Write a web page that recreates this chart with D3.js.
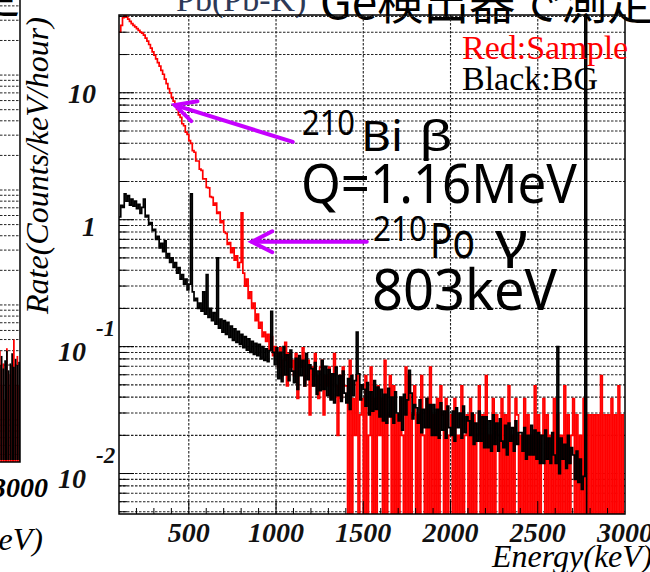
<!DOCTYPE html>
<html>
<head>
<meta charset="utf-8">
<script src="https://cdn.jsdelivr.net/npm/d3@7/dist/d3.min.js"></script>
<style>
body { margin: 0; background: #fff; }
svg { display: block; }
</style>
</head>
<body>
<svg id="chart" width="650" height="572"></svg>
<script>
// 10 keV bins, 100 .. 3000 keV
var binStart = 100, binWidth = 10;

// Black: background run (Counts/keV/hour)
var bgRate = [
  1.05,1.3,1.25,1.6,1.4,1.55,1.3,1.45,1.28,1.4,               // 100
  1.22,1.32,1.12,1.25,1.45,1.05,1.08,0.92,0.95,0.82,          // 200
  0.84,0.7,0.74,0.6,0.65,0.56,0.68,0.5,0.54,0.46,             // 300
  0.5,0.42,0.46,0.38,0.42,0.34,0.37,0.31,0.34,0.28,           // 400
  0.31,1.6,0.27,0.23,0.24,0.2,0.22,0.19,0.27,0.18,            // 500
  0.37,0.17,0.2,0.16,0.185,0.15,0.5,0.14,0.165,0.13,          // 600
  0.16,0.125,0.155,0.118,0.145,0.112,0.138,0.108,0.132,0.104, // 700
  0.125,0.098,0.12,0.094,0.115,0.09,0.11,0.087,0.106,0.085,   // 800
  0.104,0.08,0.1,0.078,0.096,0.076,0.093,0.19,0.09,0.072,     // 900
  0.098,0.056,0.09,0.053,0.1,0.06,0.086,0.054,0.094,0.064,    // 1000
  0.052,0.081,0.046,0.085,0.059,0.078,0.049,0.088,0.055,0.072,// 1100
  0.067,0.049,0.075,0.042,0.064,0.045,0.078,0.046,0.07,0.041, // 1200
  0.066,0.038,0.061,0.036,0.069,0.041,0.059,0.037,0.064,0.043,// 1300
  0.036,0.056,0.032,0.059,0.041,0.054,0.13,0.061,0.038,0.05,  // 1400
  0.046,0.034,0.052,0.029,0.044,0.031,0.054,0.032,0.048,0.028,// 1500
  0.046,0.026,0.042,0.025,0.047,0.028,0.04,0.025,0.044,0.03,  // 1600
  0.026,0.04,0.022,0.042,0.029,0.038,0.065,0.043,0.027,0.035, // 1700
  0.033,0.025,0.038,0.021,0.032,0.023,0.039,0.023,0.035,0.02, // 1800
  0.035,0.02,0.032,0.019,0.036,0.022,0.031,0.019,0.034,0.023, // 1900
  0.02,0.031,0.018,0.033,0.023,0.03,0.019,0.034,0.021,0.028,  // 2000
  0.026,0.02,0.03,0.017,0.025,0.018,0.031,0.018,0.028,0.016,  // 2100
  0.028,0.016,0.026,0.015,0.029,0.017,0.025,0.015,0.027,0.018,// 2200
  0.016,0.024,0.014,0.025,0.018,0.023,0.015,0.026,0.017,0.021,// 2300
  0.021,0.015,0.023,0.013,0.02,0.014,0.024,0.014,0.022,0.013, // 2400
  0.021,0.012,0.02,0.012,0.022,0.013,0.019,0.012,0.021,0.014, // 2500
  0.012,0.1,0.01,0.019,0.013,0.017,0.011,0.02,0.012,0.016,    // 2600
  0.014,0.009,0.015,0.0085,0.013,0.0075,0.0095,60,0,0,        // 2700
  0,0,0,0,0,0,0,0,0,0,                                        // 2800
  0,0,0,0,0,0,0,0,0,0                                         // 2900
];

// Red: sample run
var sampleRate = [
  30,34,39,42,39.5,38,36.5,35,34,33,                          // 100
  32,31,30,29.5,28.5,27,25.5,24,22.5,21,                      // 200
  19.8,18.5,17.3,16.2,15,14,12.8,11.8,10.8,10,                // 300
  9.2,8.6,7.9,7.4,6.7,6.4,5.7,5.5,4.9,4.7,                    // 400
  4.2,4.0,3.5,3.4,2.9,2.9,2.5,2.45,2.1,2.1,                   // 500
  1.8,1.78,1.52,1.5,1.3,1.35,1.12,1.15,0.95,0.98,             // 600
  0.8,0.78,0.64,0.66,0.55,0.6,0.48,0.52,0.42,0.46,            // 700
  1.13,0.38,0.3,0.34,0.24,0.27,0.2,0.22,0.16,0.18,            // 800
  0.14,0.155,0.12,0.13,0.11,0.125,0.095,0.12,0.085,0.1,       // 900
  0.088,0.069,0.098,0.059,0.078,0.108,0.049,0.088,0.069,0.078,// 1000
  0.059,0.088,0.039,0.078,0.069,0.098,0.049,0.059,0.078,0.029,// 1100
  0.069,0.049,0.088,0.059,0.039,0.069,0.078,0.029,0.059,0.049,// 1200
  0.069,0.039,0.059,0.088,0.049,0.02,0.059,0.039,0.069,0.049, // 1300
  0.049,0,0.078,0,0.039,0.02,0.059,0,0.029,0.039,             // 1400
  0,0.059,0,0.02,0.069,0,0.039,0,0.049,0.02,                  // 1500
  0.039,0,0.078,0,0.029,0.059,0,0.049,0,0.029,                // 1600
  0,0.039,0.02,0,0.069,0,0.059,0,0.029,0.049,                 // 1700
  0,0.029,0,0.059,0.02,0,0.039,0,0.069,0,                     // 1800
  0.029,0,0.039,0,0.049,0.029,0,0.039,0,0.02,                 // 1900
  0.029,0,0.039,0,0.02,0,0.049,0,0.02,0.029,                  // 2000
  0,0.039,0,0.029,0,0.02,0.049,0,0.029,0,                     // 2100
  0.059,0,0.02,0,0.039,0,0.029,0.02,0,0.039,                  // 2200
  0,0.029,0,0.049,0,0.02,0,0.039,0.029,0,                     // 2300
  0.02,0,0.039,0,0.029,0,0.02,0,0.049,0,                      // 2400
  0.029,0,0.02,0.039,0,0.029,0,0.02,0,0.039,                  // 2500
  0,0.029,0,0.02,0,0.049,0,0.029,0,0.02,                      // 2600
  0.039,0,0.029,0,0.02,0,0.039,0,0.029,0,                     // 2700
  0.029,0,0.029,0,0.029,0,0.059,0,0.029,0,                    // 2800
  0.029,0,0.039,0,0.029,0,0.049,0,0.029,0                     // 2900
];

var xTickValues = [500, 1000, 1500, 2000, 2500, 3000];
var yTickValues = [10, 1, 0.1, 0.01];
var yTickBase = ["10", "1", "10", "10"];
var yTickExp = ["", "", "-1", "-2"];

// arrows: [energy keV, rate] for tip and tail
var arrowTips = [[420, 8], [861, 0.67]];
var arrowTails = [[1096, 4.1], [1520, 0.67]];

// neighbouring panel on the slide (only its right edge is visible)
var leftBinStart = 2880;
var leftBg = [0.03,0.036,0.028,0.033,0.04,0.027,0.031,0.038,0.029,0.034,0.03,0.032];
var leftSample = [0.04,0.02,0.031,0.015,0.042,0.02,0.025,0.03,0.05,0.02,0.036,0.02];

var svg = d3.select("#chart");
var serif = "'Liberation Serif', 'Times New Roman', serif";
var sans = "'Noto Sans', 'DejaVu Sans', sans-serif";
var cjk = "'Noto Sans CJK JP', 'Noto Sans', sans-serif";
var magenta = "#c600ff";
var gridColor = "#222", gridDash = "2.5,1.5";

var pL = 119, pR = 625, pT = 15, pB = 514;
var x = d3.scaleLinear().domain([100, 3000]).range([pL, pR]);
var y = d3.scaleLog().domain([0.0048, 41]).range([pB, pT]);
function yv(v) { return v > 0 ? y(v) : pB + 6; }

// ---- neighbouring panel ----
var lx = d3.scaleLinear().domain([2880, 3000]).range([-1, 20]);
var ly = d3.scaleLog().domain([0.0043, 45]).range([462, 0]);
var lp = svg.append("g");
lp.selectAll("line.lg").data(ly.ticks()).enter().append("line")
    .attr("x1", 0).attr("x2", lx(3000))
    .attr("y1", function(d) { return ly(d); }).attr("y2", function(d) { return ly(d); })
    .attr("stroke", gridColor).attr("stroke-dasharray", gridDash);
lp.selectAll("rect.ls").data(leftSample).enter().append("rect")
    .attr("x", function(d, i) { return lx(leftBinStart + i * binWidth); })
    .attr("width", lx(binWidth) - lx(0))
    .attr("y", function(d) { return ly(d); })
    .attr("height", function(d) { return 462 - ly(d); })
    .attr("fill", "#f00");
lp.selectAll("rect.lb").data(leftBg).enter().append("rect")
    .attr("x", function(d, i) { return lx(leftBinStart + i * binWidth); })
    .attr("width", lx(binWidth) - lx(0))
    .attr("y", function(d) { return ly(d); })
    .attr("height", function(d) { return 462 - ly(d) - 2; })
    .attr("fill", "#000");
lp.append("path").attr("d", "M-2,462H" + lx(3000) + "V-2")
    .attr("fill", "none").attr("stroke", "#000").attr("stroke-width", 1.5);
lp.append("text").attr("x", lx(3000)).attr("y", 497).attr("text-anchor", "middle")
    .attr("font-family", serif).attr("font-style", "italic").attr("font-weight", "bold")
    .attr("font-size", 28).text("3000");
lp.append("text").attr("x", 43).attr("y", 550).attr("text-anchor", "end")
    .attr("font-family", serif).attr("font-style", "italic")
    .attr("font-size", 32).text("Energy(keV)");
lp.append("text").attr("x", -26).attr("y", 12)
    .attr("font-family", cjk).attr("font-size", 46).text("定");

// ---- slide heading (cut at the top) ----
svg.append("text").attr("x", 176).attr("y", 11)
    .attr("font-family", serif).attr("font-size", 34).attr("fill", "#2d3957")
    .text("Pb(Pb-K)");
svg.append("text").attr("x", 320).attr("y", 19)
    .attr("font-family", cjk).attr("font-size", 46).attr("fill", "#000")
    .text("Ge検出器で測定");

// ---- main panel ----
var plot = svg.append("g");
plot.append("clipPath").attr("id", "clip").append("rect")
    .attr("x", pL).attr("y", pT).attr("width", pR - pL).attr("height", pB - pT);

// grid
plot.selectAll("line.hg").data(y.ticks()).enter().append("line")
    .attr("x1", pL).attr("x2", pR)
    .attr("y1", function(d) { return y(d); }).attr("y2", function(d) { return y(d); })
    .attr("stroke", gridColor).attr("stroke-width", 1.1).attr("stroke-dasharray", gridDash);
plot.selectAll("line.vg").data(xTickValues.slice(0, 5)).enter().append("line")
    .attr("x1", function(d) { return x(d); }).attr("x2", function(d) { return x(d); })
    .attr("y1", pT).attr("y2", pB)
    .attr("stroke", gridColor).attr("stroke-width", 1.1).attr("stroke-dasharray", gridDash);

function stepPath(rates) {
  var pts = rates.map(function(v, i) { return [binStart + i * binWidth, v]; });
  pts.push([binStart + rates.length * binWidth, rates[rates.length - 1]]);
  return d3.line()
      .x(function(d) { return x(d[0]); })
      .y(function(d) { return yv(d[1]); })
      .curve(d3.curveStepAfter)(pts);
}

var hist = plot.append("g").attr("clip-path", "url(#clip)");
hist.append("path").attr("d", stepPath(sampleRate))
    .attr("fill", "none").attr("stroke", "#ff0000").attr("stroke-width", 1.7);
hist.append("path").attr("d", stepPath(bgRate))
    .attr("fill", "none").attr("stroke", "#000").attr("stroke-width", 1.7);

// ticks
var minorX = d3.range(200, 3000, 100);
plot.selectAll("line.xt").data(minorX).enter().append("line")
    .attr("x1", function(d) { return x(d); }).attr("x2", function(d) { return x(d); })
    .attr("y1", pB).attr("y2", function(d) { return d % 500 === 0 ? pB - 13 : pB - 6; })
    .attr("stroke", "#000").attr("stroke-width", 1);
plot.selectAll("line.yt").data(y.ticks()).enter().append("line")
    .attr("x1", pL)
    .attr("x2", function(d) { return yTickValues.indexOf(d) >= 0 ? pL + 15 : pL + 8; })
    .attr("y1", function(d) { return y(d); }).attr("y2", function(d) { return y(d); })
    .attr("stroke", "#000").attr("stroke-width", 1);

// frame
plot.append("rect").attr("x", pL).attr("y", pT)
    .attr("width", pR - pL).attr("height", pB - pT)
    .attr("fill", "none").attr("stroke", "#000").attr("stroke-width", 1.5);

// tick labels
plot.selectAll("text.xl").data(xTickValues).enter().append("text")
    .attr("x", function(d) { return x(d); }).attr("y", 542)
    .attr("text-anchor", "middle")
    .attr("font-family", serif).attr("font-style", "italic").attr("font-weight", "bold")
    .attr("font-size", 28).attr("fill", "#111")
    .text(function(d) { return d; });

yTickValues.forEach(function(v, i) {
  var hasExp = yTickExp[i] !== "";
  var ty = y(v) + 10 + (hasExp ? 4 : 0);
  var t = plot.append("text")
      .attr("font-family", serif).attr("font-style", "italic").attr("font-weight", "bold")
      .attr("font-size", 28).attr("fill", "#111");
  if (hasExp) {
    t.attr("x", 86).attr("y", ty).attr("text-anchor", "end").text(yTickBase[i]);
    plot.append("text").attr("x", 96).attr("y", ty - 25)
        .attr("font-family", serif).attr("font-style", "italic").attr("font-weight", "bold")
        .attr("font-size", 23).attr("fill", "#111").text(yTickExp[i]);
  } else {
    t.attr("x", 96).attr("y", ty + (v === 1 ? 6 : 0)).attr("text-anchor", "end").text(yTickBase[i]);
  }
});

// axis titles
plot.append("text")
    .attr("transform", "translate(48,314) rotate(-90)")
    .attr("font-family", serif).attr("font-style", "italic").attr("font-size", 32)
    .text("Rate(Counts/keV/hour)");
plot.append("text").attr("x", 492).attr("y", 567)
    .attr("font-family", serif).attr("font-style", "italic").attr("font-size", 32)
    .text("Energy(keV)");

// legend text
plot.append("text").attr("x", 462).attr("y", 59)
    .attr("font-family", serif).attr("font-size", 34).attr("fill", "#ff0000")
    .text("Red:Sample");
plot.append("text").attr("x", 462).attr("y", 90)
    .attr("font-family", serif).attr("font-size", 34).attr("fill", "#000")
    .text("Black:BG");

// arrows
arrowTips.forEach(function(tip, i) {
  var tx = x(tip[0]), ty = y(tip[1]);
  var sx = x(arrowTails[i][0]), sy = y(arrowTails[i][1]);
  var ang = Math.atan2(sy - ty, sx - tx), a = 27 * Math.PI / 180, len = 23;
  var g = svg.append("g").attr("stroke", magenta).attr("stroke-width", 4)
      .attr("stroke-linecap", "round").attr("fill", "none");
  g.append("line").attr("x1", sx).attr("y1", sy).attr("x2", tx).attr("y2", ty);
  g.append("polyline").attr("points", [
    [tx + len * Math.cos(ang - a), ty + len * Math.sin(ang - a)],
    [tx, ty],
    [tx + len * Math.cos(ang + a), ty + len * Math.sin(ang + a)]
  ].map(function(p) { return p.join(","); }).join(" "));
});

// annotations
function note(txt, px, py, size, width) {
  var t = svg.append("text").attr("x", px).attr("y", py)
      .attr("font-family", sans).attr("font-size", size).attr("fill", "#000").text(txt);
  if (width) t.attr("textLength", width).attr("lengthAdjust", "spacingAndGlyphs");
  return t;
}
note("210", 302, 135, 34, 53);
note("Bi", 361, 151, 42, 42);
note("β", 419, 151, 42, 34);
note("Q=1.16MeV", 301, 203, 54, 276);
note("210", 373, 241, 34, 54);
note("Po", 430, 258, 50, 45);
note("γ", 495, 258, 50, 33);
note("803keV", 372, 310, 56, 185);
</script>
</body>
</html>
